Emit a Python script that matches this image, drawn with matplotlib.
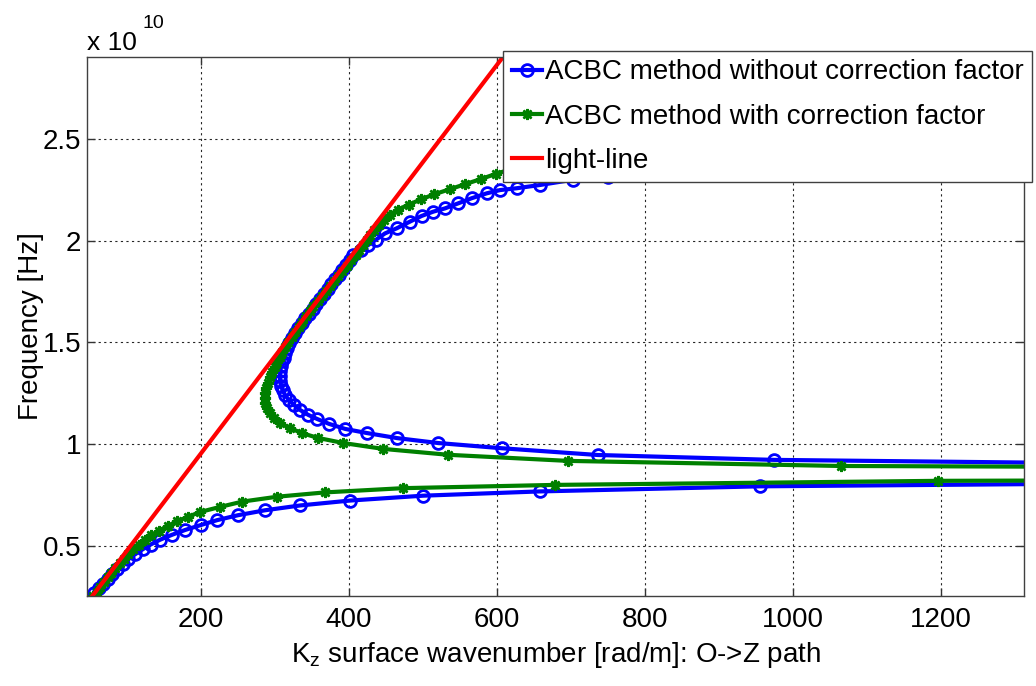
import matplotlib
matplotlib.use('Agg')
import matplotlib.pyplot as plt

plt.rcParams['font.family'] = ['Liberation Sans', 'DejaVu Sans']
plt.rcParams['mathtext.fontset'] = 'custom'
plt.rcParams['mathtext.rm'] = 'Liberation Sans'
plt.rcParams['mathtext.it'] = 'Liberation Sans'

# frequencies are in units of 1e10 Hz, wavenumbers in rad/m
# ACBC without correction factor, lower branch
blue_low_k = [56, 62, 68, 74, 80, 87, 94, 102, 111, 121, 132, 145, 161, 179,
              200, 222, 250, 286, 334, 401, 500, 658, 955, 1700]
blue_low_f = [0.267, 0.291, 0.315, 0.339, 0.363, 0.387, 0.411, 0.435, 0.459,
              0.483, 0.507, 0.531, 0.555, 0.579, 0.603, 0.627, 0.651, 0.675,
              0.699, 0.723, 0.747, 0.768, 0.793, 0.815]

# ACBC without correction factor, upper branch
blue_up_k = [1700, 974, 736, 607, 520, 465, 424, 395, 373, 357, 345, 334,
             326, 319, 314, 310.5, 308, 307, 306.5, 307, 308, 309.5, 311.5,
             314, 316.5, 319.5, 323, 327, 331.5, 336, 341, 346, 351, 356,
             361, 366, 371, 376, 381, 386, 391, 396, 401, 405, 416, 426, 436,
             448.6, 464.4, 482.4, 498.2, 513.9, 529.7, 547.7, 565.8, 586.1,
             604.1, 626.6, 658.1, 703.1, 750, 800, 860, 930, 900, 831]
blue_up_f = [0.895, 0.923, 0.947, 0.98, 1.006, 1.03, 1.055, 1.075, 1.10,
             1.124, 1.144, 1.168, 1.192, 1.216, 1.24, 1.264, 1.288, 1.312,
             1.336, 1.36, 1.384, 1.408, 1.426, 1.45, 1.474, 1.498, 1.522,
             1.546, 1.57, 1.594, 1.618, 1.642, 1.666, 1.69, 1.714, 1.738,
             1.762, 1.786, 1.81, 1.834, 1.858, 1.882, 1.906, 1.93, 1.955,
             1.979, 2.004, 2.036, 2.061, 2.094, 2.122, 2.143, 2.159, 2.184,
             2.209, 2.233, 2.249, 2.258, 2.274, 2.30, 2.315, 2.33, 2.345,
             2.36, 2.60, 2.90]

# ACBC with correction factor, lower branch
green_low_k = [54, 59, 64, 69, 74, 79, 84.5, 90, 96, 102, 108.5, 116, 124,
               133, 143, 155, 168, 183, 199, 226, 256, 303, 367, 473, 678,
               1196, 1700]
green_low_f = [0.253, 0.276, 0.299, 0.322, 0.345, 0.368, 0.391, 0.414, 0.437,
               0.460, 0.483, 0.506, 0.529, 0.552, 0.575, 0.598, 0.621, 0.644,
               0.667, 0.692, 0.718, 0.742, 0.763, 0.784, 0.800, 0.820, 0.825]

# ACBC with correction factor, upper branch
green_up_k = [1700, 1065, 696, 534, 446, 392, 358, 336, 320, 307, 299, 293,
              289, 287, 286, 286.5, 288, 290, 293, 296, 299.5, 303, 306.5,
              310, 314, 318, 322.5, 327, 332, 337, 342, 347, 352, 357.5, 363,
              368.5, 374, 379.5, 385, 391, 397, 403, 409, 414, 419, 424, 429,
              434, 440, 447, 455, 466, 481, 497, 515, 536, 557, 578, 598, 620,
              660, 720, 775, 805, 815]
green_up_f = [0.885, 0.893, 0.918, 0.948, 0.977, 1.006, 1.031, 1.055, 1.08,
              1.104, 1.128, 1.153, 1.178, 1.203, 1.228, 1.253, 1.278, 1.303,
              1.328, 1.353, 1.378, 1.403, 1.428, 1.453, 1.478, 1.503, 1.528,
              1.553, 1.578, 1.603, 1.628, 1.653, 1.678, 1.703, 1.728, 1.753,
              1.778, 1.803, 1.828, 1.853, 1.878, 1.903, 1.928, 1.953, 1.978,
              2.003, 2.028, 2.053, 2.078, 2.103, 2.128, 2.153, 2.178, 2.203,
              2.228, 2.253, 2.278, 2.303, 2.328, 2.353, 2.40, 2.50, 2.65,
              2.80, 2.90]

# light line
light_k = [52.4, 607.4]
light_f = [0.25, 2.90]

x_ticks = [200, 400, 600, 800, 1000, 1200]
y_ticks = [0.5, 1.0, 1.5, 2.0, 2.5]
y_tick_labels = ['0.5', '1', '1.5', '2', '2.5']

W, H = 1036, 686
fig = plt.figure(figsize=(W / 100, H / 100), dpi=100)
ax = fig.add_axes([87 / W, 1 - 596 / H, (1024 - 87) / W, (596 - 57) / H])

blue_style = dict(color=(0, 0, 1), lw=3, marker='o', ms=8.5, mfc='none', mew=2)
green_style = dict(color=(0, 0.5, 0), lw=3, marker=(8, 2, 0), ms=8, mew=1.8)

ax.plot(blue_low_k, blue_low_f, label='ACBC method without correction factor', **blue_style)
ax.plot(blue_up_k, blue_up_f, **blue_style)
ax.plot(green_low_k, green_low_f, label='ACBC method with correction factor', **green_style)
ax.plot(green_up_k, green_up_f, **green_style)
ax.plot(light_k, light_f, color=(1, 0, 0), lw=3, label='light-line')

ax.set_xlim(46, 1312)
ax.set_ylim(0.254, 2.903)
ax.set_xticks(x_ticks)
ax.set_xticklabels([str(v) for v in x_ticks])
ax.set_yticks(y_ticks)
ax.set_yticklabels(y_tick_labels)
ax.tick_params(direction='in', top=True, right=True, length=6, width=1,
               labelsize=20, color='0.2')
ax.tick_params(axis='x', pad=8)
ax.tick_params(axis='y', pad=4)
ax.grid(True, color='0.15', linestyle=(0, (2, 3)), linewidth=0.8)
for s in ax.spines.values():
    s.set_color('0.25')
    s.set_linewidth(1)

ax.set_xlabel(r'K$_{\mathrm{z}}$ surface wavenumber [rad/m]: O->Z path', fontsize=20)
ax.xaxis.set_label_coords((556 - 87) / (1024 - 87), -(655 - 596) / (596 - 57))
ax.xaxis.label.set_va('center')
ax.set_ylabel('Frequency [Hz]', fontsize=20)
ax.yaxis.set_label_coords(-(87 - 31) / (1024 - 87), 0.5)
ax.yaxis.label.set_va('center')

# MATLAB-style exponent label above the axes
fig.text(87 / W, 1 - 50 / H, 'x 10', fontsize=19, ha='left', va='baseline')
fig.text(142 / W, 1 - 28 / H, '10', fontsize=14, ha='left', va='baseline')

leg = ax.legend(loc='upper right', bbox_to_anchor=(1032 / W, 1 - 51 / H),
                bbox_transform=fig.transFigure, fontsize=20, fancybox=False,
                framealpha=1, edgecolor='0.25', borderpad=0.3, handlelength=1.1,
                handletextpad=0.1, labelspacing=0.66, borderaxespad=0)
leg.get_frame().set_linewidth(1)

plt.savefig('out.png', dpi=100)
plt.close()
